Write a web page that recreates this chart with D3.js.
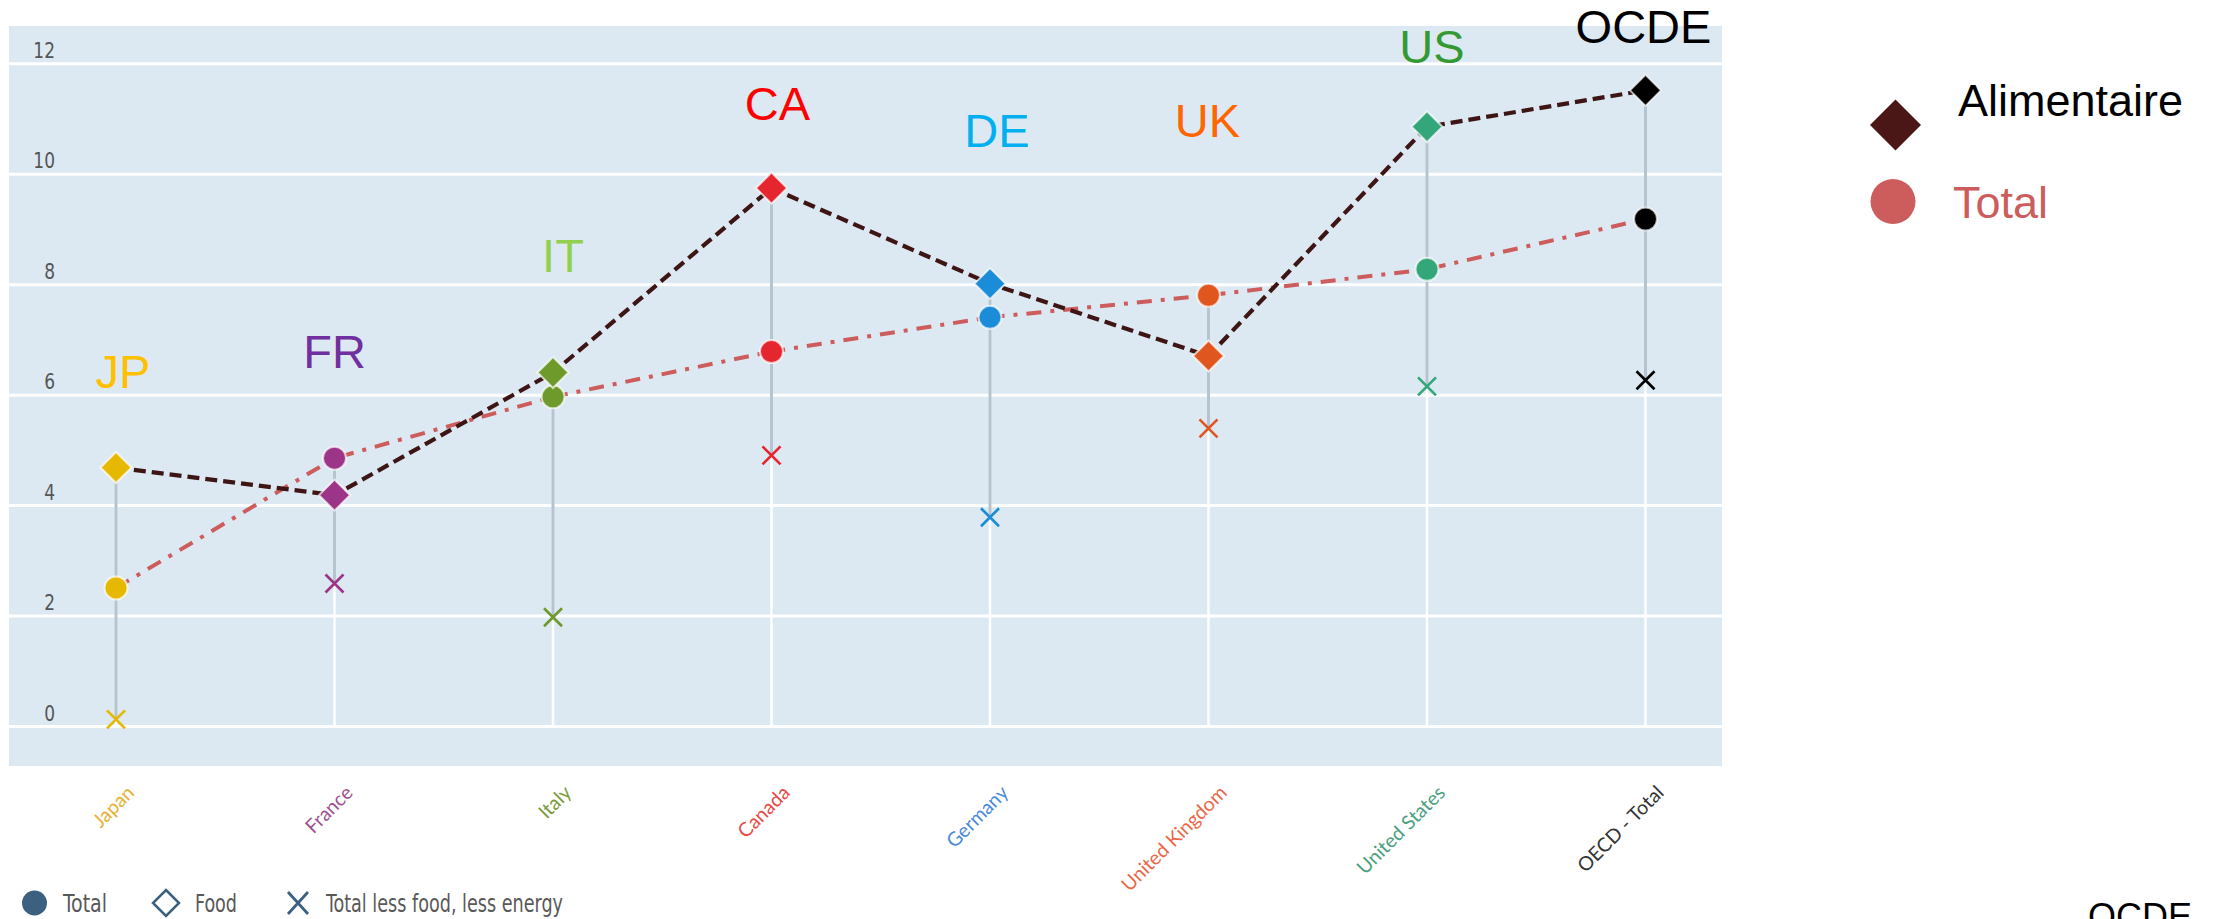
<!DOCTYPE html>
<html>
<head>
<meta charset="utf-8">
<script src="https://cdn.jsdelivr.net/npm/d3@7"></script>
<style>
  html, body { margin: 0; padding: 0; background: #fff; overflow: hidden; }
  svg { display: block; }
</style>
</head>
<body>
<div id="chart"></div>
<script>
// data
var countries = ["Japan", "France", "Italy", "Canada", "Germany", "United Kingdom", "United States", "OECD - Total"];
var codes = ["JP", "FR", "IT", "CA", "DE", "UK", "US", "OCDE"];
var totalValues = [2.50, 4.85, 5.96, 6.78, 7.40, 7.80, 8.27, 9.18];
var foodValues = [4.68, 4.18, 6.40, 9.74, 8.01, 6.70, 10.85, 11.51];
var coreValues = [0.12, 2.58, 1.97, 4.90, 3.78, 5.39, 6.15, 6.26];
var yTicks = [0, 2, 4, 6, 8, 10, 12];

var markerColors = ["#e6b800", "#9c3587", "#6d9a2b", "#e5262f", "#1b8cd8", "#e0561f", "#33a67a", "#000000"];
var codeColors = ["#ffc000", "#7030a0", "#92d050", "#ff0000", "#00b0f0", "#ff6600", "#339933", "#000000"];
var axisColors = ["#e8b030", "#a0508f", "#7a9a3a", "#e84848", "#4a8ad8", "#e86848", "#4aa080", "#333333"];

// where the country codes sit (value units above 0, small x nudge)
var codeLevel = [6.12, 6.48, 8.22, 10.97, 10.48, 10.66, 12.0, 12.36];
var codeNudge = [7, 0, 10, 6, 7, -1, 5, -2];

var W = 2222, H = 919;
var bg = { left: 9, right: 1722, top: 26, bottom: 766 };
var narrow = "'Liberation Sans Narrow', 'DejaVu Sans Condensed', sans-serif";
var arial = "'Liberation Sans', Arial, sans-serif";

var svg = d3.select("#chart").append("svg")
    .attr("width", W)
    .attr("height", H);

var x = d3.scalePoint().domain(countries).range([116, 1645.5]);
var y = d3.scaleLinear().domain([0, 12]).range([726, 63.3]);

var rows = countries.map(function(c, i) {
    return { name: c, code: codes[i], total: totalValues[i], food: foodValues[i], core: coreValues[i], i: i };
});

// background panel
svg.append("rect")
    .attr("x", bg.left).attr("y", bg.top)
    .attr("width", bg.right - bg.left).attr("height", bg.bottom - bg.top)
    .attr("fill", "#dde9f2");

// horizontal grid + tick labels
var yAxis = svg.append("g")
    .attr("transform", "translate(" + bg.right + ",0)")
    .call(d3.axisLeft(y).tickValues(yTicks).tickSize(bg.right - bg.left));
yAxis.select(".domain").remove();
yAxis.selectAll("line").attr("stroke", "#ffffff").attr("stroke-width", 3);
yAxis.selectAll("text")
    .attr("x", 0)
    .attr("dy", -6)
    .attr("transform", "translate(" + (55 - bg.right) + ",0) scale(0.86,1)")
    .attr("text-anchor", "end")
    .attr("fill", "#555555")
    .style("font-family", narrow)
    .style("font-size", "22px");

// x axis labels
var xAxis = svg.append("g")
    .attr("transform", "translate(0,794)")
    .call(d3.axisBottom(x).tickSize(0));
xAxis.select(".domain").remove();
xAxis.selectAll("text")
    .attr("y", 0).attr("dy", 0)
    .attr("transform", "translate(19,0) rotate(-45)")
    .attr("text-anchor", "end")
    .attr("fill", function(d, i) { return axisColors[i]; })
    .style("font-family", "Lato, 'Open Sans', sans-serif")
    .style("font-size", "19.5px");

// white stems from zero, grey range bars
svg.selectAll(".stem").data(rows).enter().append("line")
    .attr("class", "stem")
    .attr("x1", function(d) { return x(d.name); })
    .attr("x2", function(d) { return x(d.name); })
    .attr("y1", y(0))
    .attr("y2", function(d) { return y(Math.max(d.total, d.food, d.core)); })
    .attr("stroke", "#ffffff").attr("stroke-width", 2.5);

svg.selectAll(".range").data(rows).enter().append("line")
    .attr("class", "range")
    .attr("x1", function(d) { return x(d.name); })
    .attr("x2", function(d) { return x(d.name); })
    .attr("y1", function(d) { return y(Math.min(d.total, d.food, d.core)); })
    .attr("y2", function(d) { return y(Math.max(d.total, d.food, d.core)); })
    .attr("stroke", "#b6c4cf").attr("stroke-width", 3);

// overlay lines (food dashed, total dash-dot)
var foodLine = d3.line().x(function(d) { return x(d.name); }).y(function(d) { return y(d.food); });
var totalLine = d3.line().x(function(d) { return x(d.name); }).y(function(d) { return y(d.total); });

svg.append("path").datum(rows)
    .attr("d", totalLine)
    .attr("fill", "none")
    .attr("stroke", "#cd5c5c")
    .attr("stroke-width", 4)
    .attr("stroke-dasharray", "15,9,4,9");

svg.append("path").datum(rows)
    .attr("d", foodLine)
    .attr("fill", "none")
    .attr("stroke", "#3e1515")
    .attr("stroke-width", 4.2)
    .attr("stroke-dasharray", "12,6");

// markers
svg.selectAll(".core").data(rows).enter().append("path")
    .attr("class", "core")
    .attr("transform", function(d) { return "translate(" + x(d.name) + "," + y(d.core) + ")"; })
    .attr("d", "M-9,-9L9,9M-9,9L9,-9")
    .attr("fill", "none")
    .attr("stroke", function(d) { return markerColors[d.i]; })
    .attr("stroke-width", 2.6);

svg.selectAll(".tot").data(rows).enter().append("circle")
    .attr("class", "tot")
    .attr("cx", function(d) { return x(d.name); })
    .attr("cy", function(d) { return y(d.total); })
    .attr("r", 11.5)
    .attr("fill", function(d) { return markerColors[d.i]; })
    .attr("stroke", "rgba(255,255,255,0.7)")
    .attr("stroke-width", 2);

svg.selectAll(".food").data(rows).enter().append("path")
    .attr("class", "food")
    .attr("transform", function(d) { return "translate(" + x(d.name) + "," + y(d.food) + ")"; })
    .attr("d", "M0,-15.5L15.5,0L0,15.5L-15.5,0Z")
    .attr("fill", function(d) { return markerColors[d.i]; })
    .attr("stroke", "rgba(255,255,255,0.7)")
    .attr("stroke-width", 2);

// country codes
svg.selectAll(".code").data(rows).enter().append("text")
    .attr("class", "code")
    .attr("x", function(d) { return x(d.name) + codeNudge[d.i]; })
    .attr("y", function(d) { return y(codeLevel[d.i]); })
    .attr("text-anchor", "middle")
    .attr("fill", function(d) { return codeColors[d.i]; })
    .style("font-family", arial)
    .style("font-size", "47px")
    .text(function(d) { return d.code; });

// right legend
var rl = svg.append("g");
rl.append("path")
    .attr("transform", "translate(1895.5,125)")
    .attr("d", "M0,-25.5L25.5,0L0,25.5L-25.5,0Z")
    .attr("fill", "#4a1616");
rl.append("text")
    .attr("x", 1958).attr("y", 116)
    .attr("fill", "#000")
    .style("font-family", arial)
    .style("font-size", "45px")
    .text("Alimentaire");
rl.append("circle")
    .attr("cx", 1893).attr("cy", 201.5).attr("r", 22.5)
    .attr("fill", "#cd5c5c");
rl.append("text")
    .attr("x", 1953).attr("y", 218)
    .attr("fill", "#cd5c5c")
    .style("font-family", arial)
    .style("font-size", "45px")
    .text("Total");

svg.append("text")
    .attr("x", 2088).attr("y", 928.5)
    .attr("fill", "#000")
    .style("font-family", arial)
    .style("font-size", "36px")
    .text("OCDE");

// bottom legend
var bl = svg.append("g")
    .style("font-family", narrow)
    .style("font-size", "24px");
bl.append("circle").attr("cx", 34.5).attr("cy", 903).attr("r", 12.5).attr("fill", "#3b6080");
bl.append("text").attr("x", 63).attr("y", 911.5).attr("fill", "#595959")
    .attr("textLength", 44).attr("lengthAdjust", "spacingAndGlyphs").text("Total");
bl.append("path")
    .attr("transform", "translate(166,903)")
    .attr("d", "M0,-13L13,0L0,13L-13,0Z")
    .attr("fill", "#fff").attr("stroke", "#3b6080").attr("stroke-width", 2.5);
bl.append("text").attr("x", 195).attr("y", 911.5).attr("fill", "#595959")
    .attr("textLength", 42).attr("lengthAdjust", "spacingAndGlyphs").text("Food");
bl.append("path")
    .attr("transform", "translate(298,903)")
    .attr("d", "M-10,-11L10,11M-10,11L10,-11")
    .attr("stroke", "#3b6080").attr("stroke-width", 2.8);
bl.append("text").attr("x", 326).attr("y", 911.5).attr("fill", "#595959")
    .attr("textLength", 237).attr("lengthAdjust", "spacingAndGlyphs").text("Total less food, less energy");
</script>
</body>
</html>
